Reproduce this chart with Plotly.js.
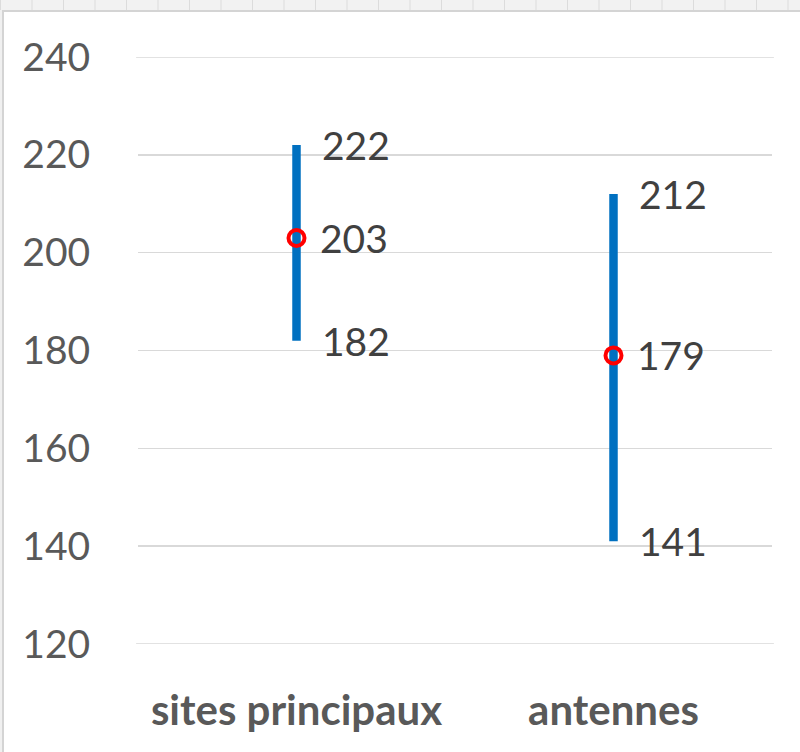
<!DOCTYPE html>
<html>
<head>
<meta charset="utf-8">
<script src="https://cdn.plot.ly/plotly-3.0.1.min.js"></script>
<style>
  html, body { margin: 0; padding: 0; width: 800px; height: 752px; overflow: hidden; background: #f0f0f0; }
  #strip { position: absolute; left: 0; top: 0; width: 800px; height: 10px;
    background-image: linear-gradient(to right, #dcdcdc 1px, transparent 1px);
    background-size: 31.5px 10px; background-color: #f2f2f2; }
  #frame { position: absolute; left: 2px; top: 10px; width: 798px; height: 742px; background: #ffffff;
    border-left: 2px solid #d4d4d4; border-top: 2px solid #d4d4d4; box-sizing: border-box; }
  #chart { position: absolute; left: 0; top: 0; width: 800px; height: 752px; }
</style>
</head>
<body>
<div id="strip"></div>
<div id="frame"></div>
<div id="chart"></div>
<script>
const categories = ["sites principaux", "antennes"];
const highs = [222, 212];
const mids = [203, 179];
const lows = [182, 141];
const yTicks = [120, 140, 160, 180, 200, 220, 240];

const lineX = [], lineY = [];
categories.forEach((c, i) => { lineX.push(c, c, null); lineY.push(lows[i], highs[i], null); });

const traces = [
  { x: lineX, y: lineY, type: 'scatter', mode: 'lines',
    line: { color: '#0070C0', width: 8.5 }, hoverinfo: 'skip', showlegend: false },
  { x: categories, y: mids, type: 'scatter', mode: 'markers',
    marker: { symbol: 'circle', size: 16, color: 'rgba(0,0,0,0)', line: { color: '#FF0000', width: 4 } },
    showlegend: false }
];

const annotations = [];
const font = { family: 'Lato, "Open Sans", sans-serif', size: 39, color: '#404040' };
categories.forEach((c, i) => {
  [highs[i], mids[i], lows[i]].forEach((v, k) => {
    annotations.push({ x: c, y: v, xref: 'x', yref: 'y', text: String(v), showarrow: false,
      xanchor: 'left', yanchor: 'middle', xshift: k === 1 ? 21 : 23, font: font });
  });
});

const layout = {
  width: 800, height: 752,
  margin: { l: 138, r: 28, t: 57, b: 108 },
  paper_bgcolor: 'rgba(0,0,0,0)', plot_bgcolor: 'rgba(0,0,0,0)',
  showlegend: false,
  shapes: yTicks.filter(v => v === 120 || v === 240).map(v => ({
    type: 'line', xref: 'paper', yref: 'y', x0: -0.003, x1: 1.003, y0: v, y1: v,
    line: { color: '#d9d9d9', width: 1.5 }, layer: 'below' })),
  xaxis: { type: 'category', range: [-0.5, 1.5], showgrid: false, zeroline: false, showline: false,
    ticks: 'outside', ticklen: 30, tickcolor: 'rgba(0,0,0,0)',
    tickfont: { family: 'Lato, "Open Sans", sans-serif', size: 42, color: '#595959', weight: 'bold' } },
  yaxis: { range: [120, 240], tickvals: yTicks, ticktext: yTicks.map(String),
    showgrid: true, gridcolor: '#d9d9d9', gridwidth: 1.5, zeroline: false, showline: false,
    ticks: 'outside', ticklen: 39, tickcolor: 'rgba(0,0,0,0)',
    tickfont: { family: 'Lato, "Open Sans", sans-serif', size: 39, color: '#595959' } },
  annotations: annotations
};

Plotly.newPlot('chart', traces, layout, { displayModeBar: false, staticPlot: true });
</script>
</body>
</html>
